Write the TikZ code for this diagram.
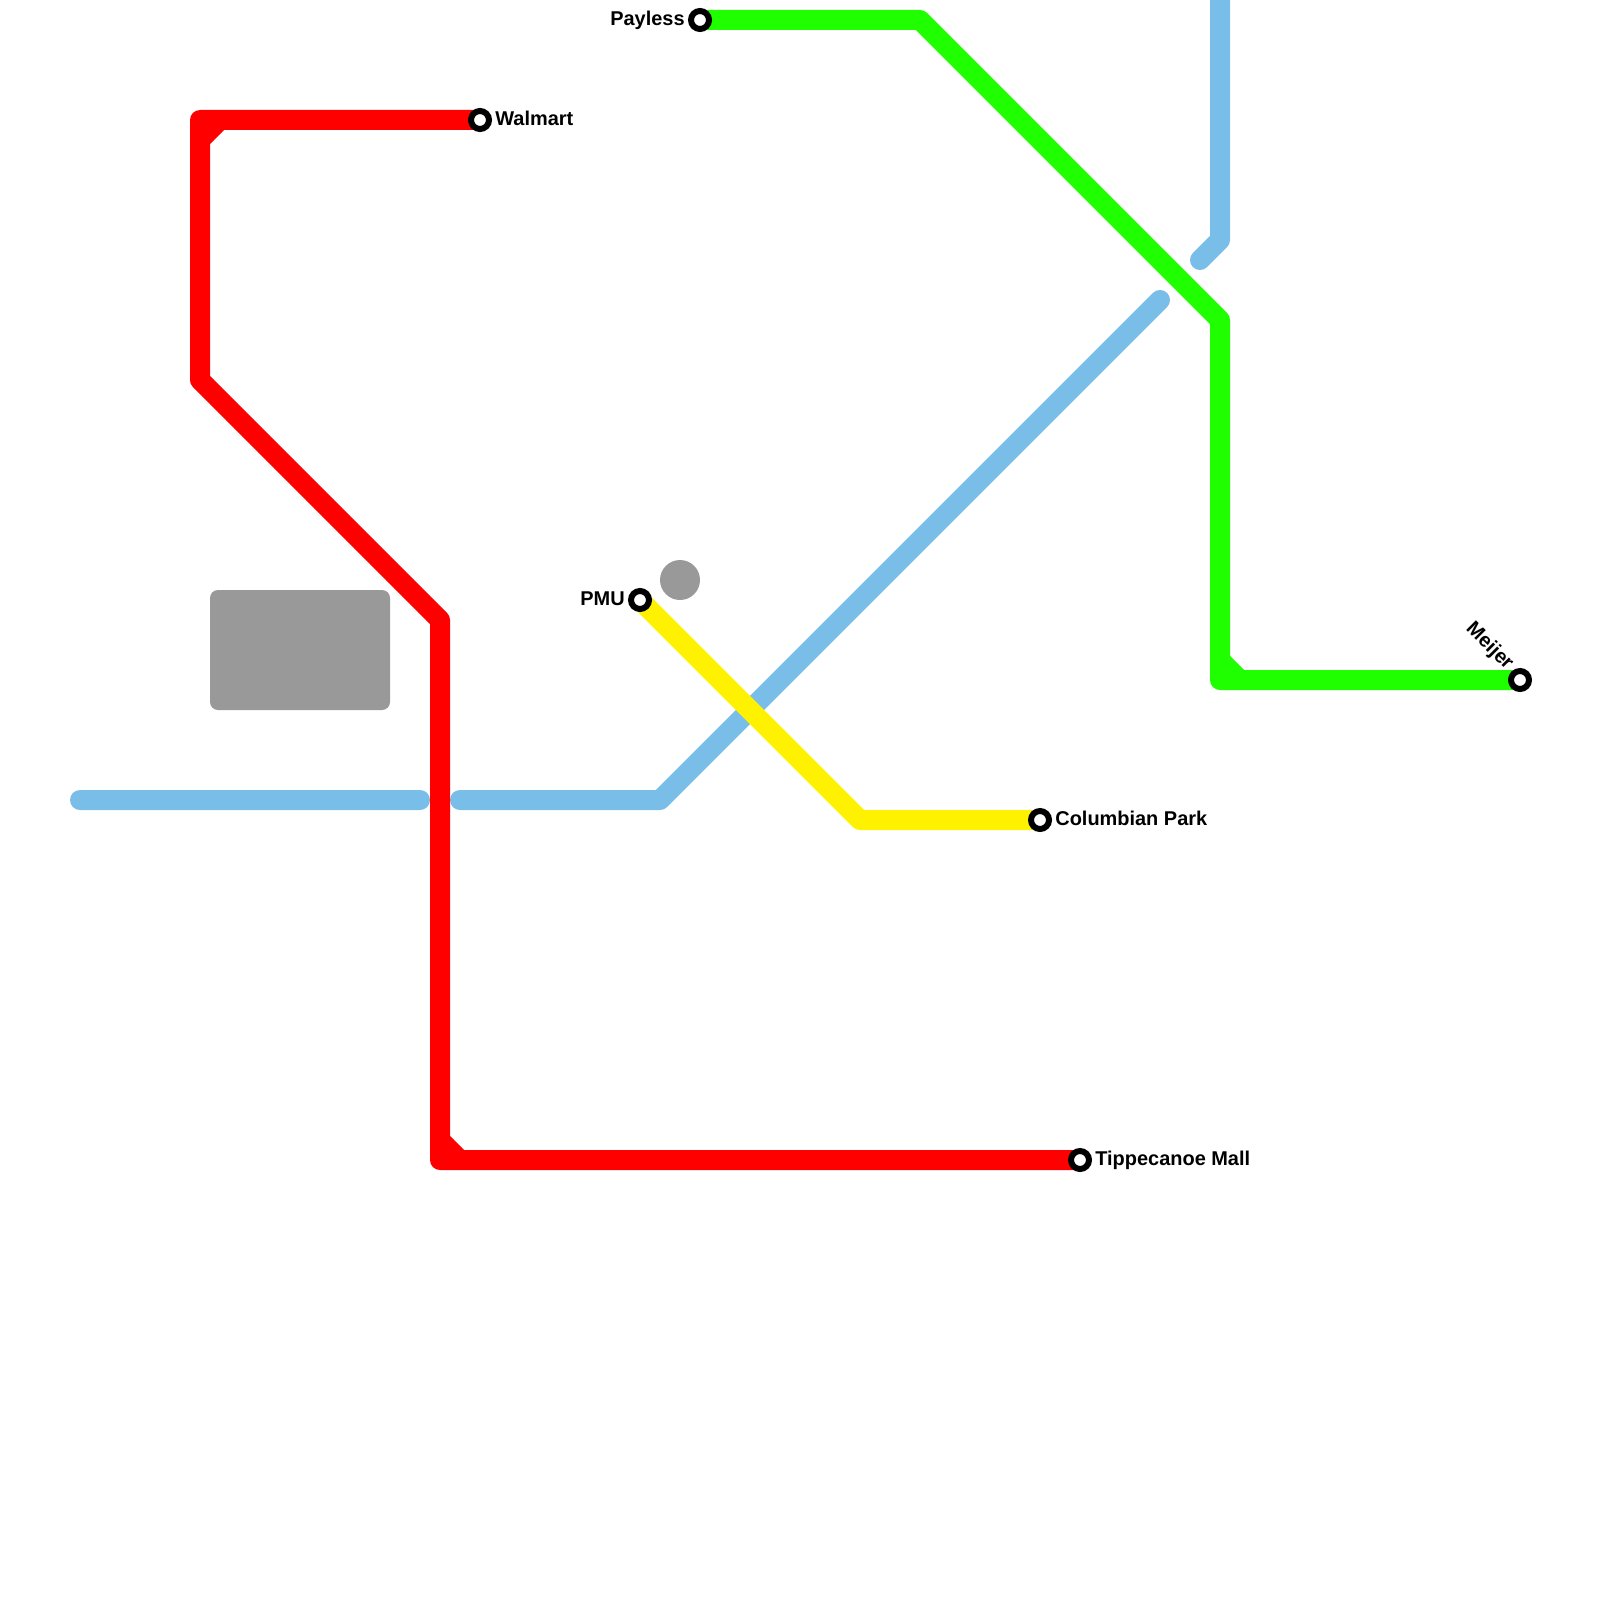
\documentclass[tikz,border=0pt]{standalone}
\usepackage{fontspec}
\setmainfont{Liberation Sans}
\definecolor{redline}{HTML}{FF0000}
\definecolor{greenline}{HTML}{1FFF00}
\definecolor{yellowline}{HTML}{FFF200}
\definecolor{blueline}{HTML}{79BDE9}
\definecolor{parkgray}{HTML}{999999}
\tikzset{
  metroline/.style={line width=0.4cm, line cap=round, line join=round},
  station/.style={circle, draw=black, fill=white, line width=0.12cm, minimum size=0.36cm, inner sep=0pt},
  stationlabel/.style={inner sep=0pt, text height=8.2pt, text depth=2.4pt, font=\fontsize{11.35}{13}\selectfont\bfseries, text=black, label distance=0.06cm},
}
\begin{document}
\begin{tikzpicture}[x=0.4cm, y=-0.4cm]
  \useasboundingbox (0,0) rectangle (80,80);
  \coordinate (walmart) at (24,6);
  \coordinate (payless) at (35,1);
  \coordinate (pmu) at (32,30);
  \coordinate (meijer) at (76,34);
  \coordinate (columbian) at (52,41);
  \coordinate (tippecanoe) at (54,58);
  % water
  \fill[parkgray, rounded corners=0.16cm] (10.5,29.5) rectangle (19.5,35.5);
  \fill[parkgray] (34,29) circle (0.4cm);
  % lines
  \draw[metroline, blueline] (4,40) -- (21,40) (23,40) -- (33,40) -- (58,15)
    (60,13) -- (61,12) -- (61,-1);
  \draw[metroline, greenline] (payless) -- (46,1) -- (61,16) -- (61,34) -- (meijer)
    (61,33) -- (62,34);
  \draw[metroline, redline] (walmart) -- (10,6) -- (10,19) -- (22,31) -- (22,58) -- (tippecanoe)
    (10,7) -- (11,6) (22,57) -- (23,58);
  \draw[metroline, yellowline] (pmu) -- (43,41) -- (columbian);
  % stations
  \node[station, label={[stationlabel]right:Walmart}] (walmartstop) at (walmart) {};
  \node[station, label={[stationlabel]left:Payless}] (paylessstop) at (payless) {};
  \node[station, label={[stationlabel]left:PMU}] (pmustop) at (pmu) {};
  \node[station] (meijerstop) at (meijer) {};
  \node[station, label={[stationlabel]right:Columbian Park}] (columbianstop) at (columbian) {};
  \node[station, label={[stationlabel]right:Tippecanoe Mall}] (tippecanoestop) at (tippecanoe) {};
  \node[stationlabel, rotate=-45, anchor=east] (meijerlabel) at (75.5,33.35) {Meijer};
\end{tikzpicture}
\end{document}
